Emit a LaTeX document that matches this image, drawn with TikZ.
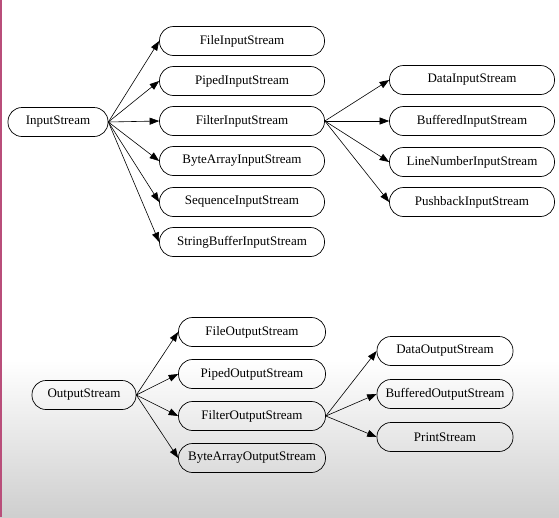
\documentclass[tikz,border=0pt]{standalone}
\usepackage{fontspec}
\setmainfont{Liberation Serif}
\usetikzlibrary{arrows.meta, positioning}

\tikzset{
  cls/.style={draw, rectangle, rounded corners=14pt, minimum height=29pt, inner sep=1pt, font=\fontsize{13}{15}\selectfont},
  inh/.style={-{Triangle[length=9.5pt,width=7pt]}, line width=0.6pt},
}

\begin{document}
\begin{tikzpicture}[x=1pt,y=-1pt, line width=0.7pt]
% background
\fill[white] (0,0) rectangle (559,517);
\shade[top color=white, bottom color=black!19, draw=none] (0,360) rectangle (559,517);
\fill[red!65!blue!55!pink!90!black] (0,0) rectangle (2,517);
\useasboundingbox (0,0) rectangle (559,517);

% input streams
\node[cls, minimum width=100pt] (is) at (58,122) {InputStream};
\node[cls, minimum width=165pt] (fis) at (242,41) {FileInputStream};
\node[cls, minimum width=165pt] (pis) at (242,81) {PipedInputStream};
\node[cls, minimum width=165pt] (filis) at (242,121) {FilterInputStream};
\node[cls, minimum width=165pt] (bais) at (242,161) {ByteArrayInputStream};
\node[cls, minimum width=165pt] (sis) at (242,202) {SequenceInputStream};
\node[cls, minimum width=165pt] (sbis) at (242,242) {StringBufferInputStream};

\node[cls, minimum width=165pt] (dis) at (472,80) {DataInputStream};
\node[cls, minimum width=165pt] (bis) at (472,121) {BufferedInputStream};
\node[cls, minimum width=165pt] (lnis) at (472,162) {LineNumberInputStream};
\node[cls, minimum width=165pt] (pbis) at (472,202) {PushbackInputStream};

\draw[inh] (is.east) -- (fis.west); \draw[inh] (is.east) -- (pis.west);
\draw[inh] (is.east) -- (filis.west); \draw[inh] (is.east) -- (bais.west);
\draw[inh] (is.east) -- (sis.west); \draw[inh] (is.east) -- (sbis.west);

\draw[inh] (filis.east) -- (dis.west); \draw[inh] (filis.east) -- (bis.west);
\draw[inh] (filis.east) -- (lnis.west); \draw[inh] (filis.east) -- (pbis.west);

% output streams
\node[cls, minimum width=104pt] (os) at (84,395) {OutputStream};
\node[cls, minimum width=147pt] (fos) at (252,332) {FileOutputStream};
\node[cls, minimum width=147pt] (pos) at (252,374) {PipedOutputStream};
\node[cls, minimum width=147pt] (filos) at (252,416) {FilterOutputStream};
\node[cls, minimum width=147pt] (baos) at (252,458) {ByteArrayOutputStream};

\node[cls, minimum width=136pt] (dos) at (445,351) {DataOutputStream};
\node[cls, minimum width=136pt] (bos) at (445,394) {BufferedOutputStream};
\node[cls, minimum width=136pt] (ps) at (445,437) {PrintStream};

\draw[inh] (os.east) -- (fos.west); \draw[inh] (os.east) -- (pos.west);
\draw[inh] (os.east) -- (filos.west); \draw[inh] (os.east) -- (baos.west);

\draw[inh] (filos.east) -- (dos.west); \draw[inh] (filos.east) -- (bos.west);
\draw[inh] (filos.east) -- (ps.west);
\end{tikzpicture}
\end{document}
